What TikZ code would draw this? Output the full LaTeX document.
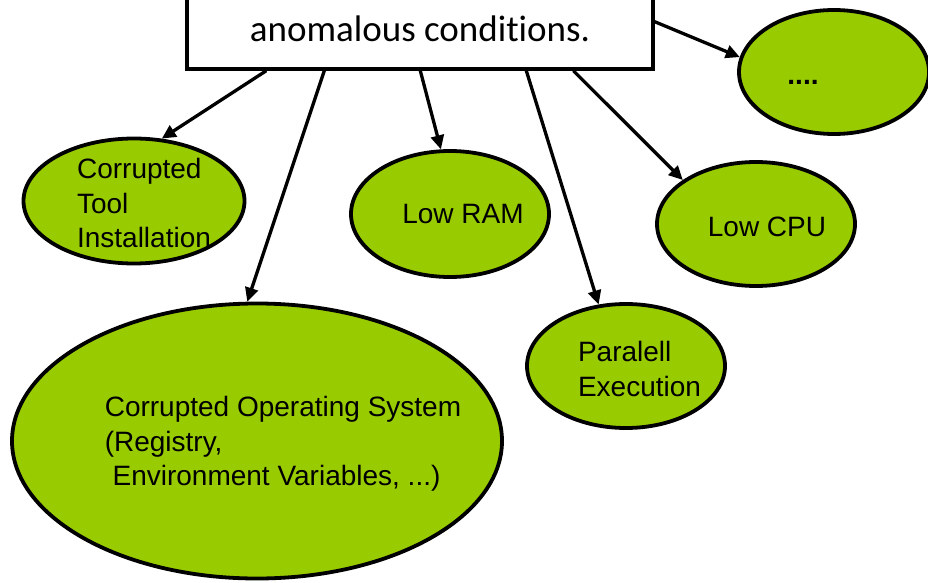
\documentclass[tikz,border=0pt]{standalone}
\usepackage{fontspec}
\setmainfont{Liberation Sans}
\newfontfamily\calibrifont[Ligatures=NoCommon]{Carlito}
\usetikzlibrary{arrows.meta,shapes.geometric}
\definecolor{leaf}{HTML}{99CC00}
\definecolor{ink}{HTML}{000000}

\tikzset{
  blob/.style={ellipse,draw=ink,line width=3.8pt,fill=leaf,inner sep=0pt},
  blobtext/.style={font=\fontsize{28}{34.5}\selectfont,text=ink,align=left,inner sep=0pt},
  topbox/.style={rectangle,draw=ink,line width=3.4pt,fill=white,minimum width=466pt,
    inner sep=0pt,font=\calibrifont\fontsize{37}{44}\selectfont},
  link/.style={-{Triangle[length=14pt,width=13pt]},draw=ink,line width=3.3pt}
}

\begin{document}
\begin{tikzpicture}[x=1pt,y=1pt]
  \path[use as bounding box,clip] (0,0) rectangle (928,582);

  % the cause box, cut off at the top
  \node[topbox,text height=84pt,text depth=27pt,anchor=base] (top) at (420,540)
    {anomalous conditions.};

  % causes
  \node[blob,minimum width=221pt,minimum height=125pt,
    label={[blobtext,xshift=10pt,yshift=-2pt]center:{Corrupted\\Tool\\Installation}}]
    (tool) at (134,381) {};
  \node[blob,minimum width=490pt,minimum height=275pt,
    label={[blobtext,xshift=26pt,yshift=-3pt]center:{Corrupted Operating System\\(Registry,\\\hspace*{7.8pt}Environment Variables, ...)}}]
    (os) at (257,141) {};
  \node[blob,minimum width=198pt,minimum height=126pt,
    label={[blobtext,xshift=13pt]center:{Low RAM}}]
    (ram) at (450,368) {};
  \node[blob,minimum width=198pt,minimum height=124pt,
    label={[blobtext,xshift=13.5pt,yshift=-3pt]center:{Paralell\\Execution}}]
    (par) at (626,216) {};
  \node[blob,minimum width=198pt,minimum height=124pt,
    label={[blobtext,xshift=11pt,yshift=-3pt]center:{Low CPU}}]
    (cpu) at (756,358) {};
  \node[blob,minimum width=190pt,minimum height=124pt,
    label={[blobtext,xshift=-31pt,yshift=-10pt]center:{\textbf{....}}}]
    (dots) at (834,510) {};

  \foreach \dx/\tgt in {81/tool.66,139/os.94,235/ram.98,341/par.114,388/cpu.149}
    \draw[link] ([xshift=\dx pt]top.south west) -- (\tgt);
  \draw[link] ([yshift=49pt]top.south east) -- (dots.171);
\end{tikzpicture}
\end{document}
